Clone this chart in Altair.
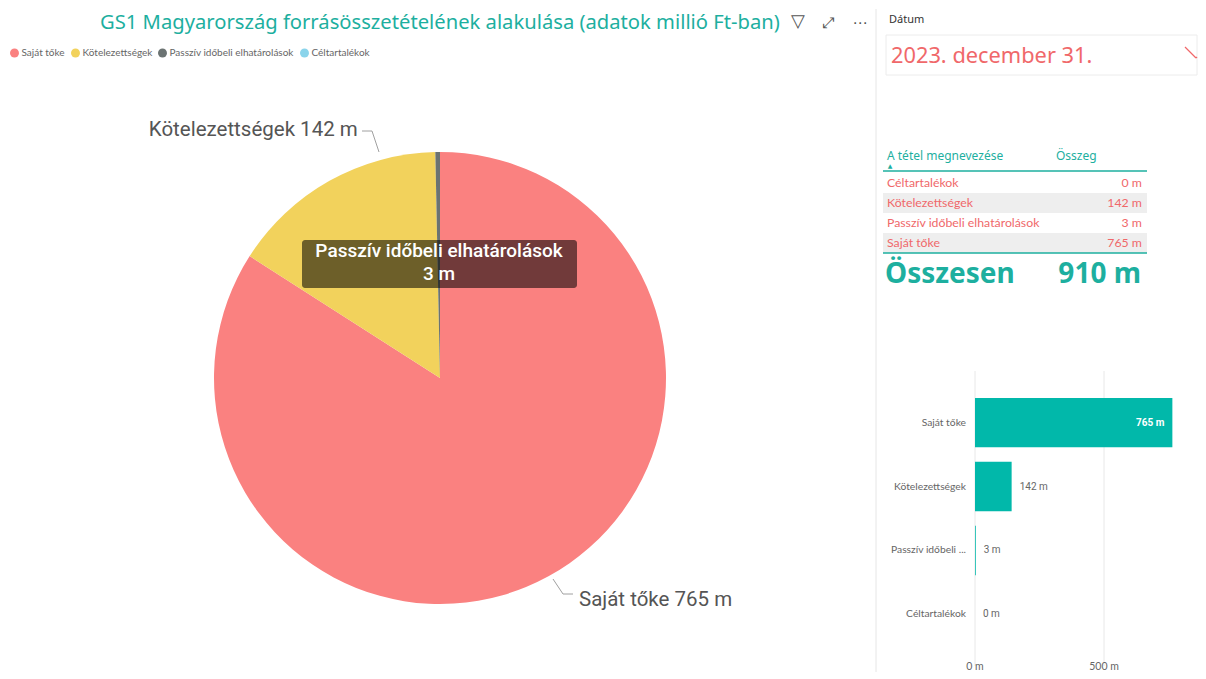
import altair as alt
import pandas as pd

# ---------------- data ----------------
title_text = "GS1 Magyarország forrásösszetételének alakulása (adatok millió Ft-ban)"
categories = ["Saját tőke", "Kötelezettségek", "Passzív időbeli elhatárolások", "Céltartalékok"]
values = [765, 142, 3, 0]
pie_colors = ["#FA8180", "#F2D25C", "#6B7372", "#8AD4EB"]
table_order = ["Céltartalékok", "Kötelezettségek", "Passzív időbeli elhatárolások", "Saját tőke"]
shaded_rows = ["Kötelezettségek", "Saját tőke"]
x_ticks = [0, 500]
date_label = "2023. december 31."
slicer_title = "Dátum"
col_headers = ["A tétel megnevezése", "Összeg"]
total_label = "Összesen"
icons = ["▽", "⤢", "⋯"]

# ---------------- layout helpers ----------------
W, H = 1190, 663


def px(x):
    return x - 8


def py(y):
    return y - 8


UI = "Noto Sans"
NARROW = "Lato"
DIN = "Roboto"
TEAL = "#1DAF9F"
BAR = "#01B8AA"
SALMON = "#F0686A"
GRAY = "#666666"

df = pd.DataFrame({"Category": categories, "Value": values, "ord": list(range(len(categories)))})
one = pd.DataFrame({"k": [0]})
ticks_df = pd.DataFrame({"Value": x_ticks})
base = alt.Chart(df)


def rule(x1, y1, x2, y2, color, width=1.0):
    return alt.Chart(one).mark_rule(color=color, strokeWidth=width).encode(
        x=alt.value(px(x1)), x2=alt.value(px(x2)), y=alt.value(py(y1)), y2=alt.value(py(y2))
    )


def label(text, x, y, size, color, align="left", font=UI, weight="normal"):
    return alt.Chart(one).mark_text(
        text=text, align=align, baseline="middle", font=font, fontSize=size,
        color=color, fontWeight=weight
    ).encode(x=alt.value(px(x)), y=alt.value(py(y)))


layers = []

# ---------------- left: title, pie ----------------
layers.append(label(title_text, 100, 22, 20.2, TEAL))
layers.append(label(icons[0], 798, 21, 18, "#555555", align="center", font="DejaVu Sans"))
layers.append(label(icons[1], 828, 22, 15, "#555555", align="center", font="DejaVu Sans"))
layers.append(label(icons[2], 860, 22, 15, "#555555", align="center", font="DejaVu Sans"))

theta = alt.Theta("Value:Q", stack=True)
order = alt.Order("ord:Q")
cx, cy = px(440), py(377)

pie = base.mark_arc(outerRadius=226).encode(
    theta=theta,
    order=order,
    color=alt.Color(
        "Category:N",
        scale=alt.Scale(domain=categories, range=pie_colors),
        legend=alt.Legend(
            orient="none", legendX=1.5, legendY=py(47), direction="horizontal", title=None,
            symbolType="circle", symbolSize=80, symbolStrokeWidth=0, labelFontSize=10,
            labelColor=GRAY, labelFont=NARROW, columnPadding=5, labelOffset=2, padding=0,
        ),
    ),
    x=alt.value(cx),
    y=alt.value(cy),
)
layers.append(pie)

pie_lbl = base.transform_calculate(label="datum.Category + ' ' + datum.Value + ' m'")
lbl_kot = pie_lbl.transform_calculate(
    t="datum.Category == '%s' ? datum.label : ''" % categories[1]
).mark_text(radius=250, align="right", baseline="middle", font=DIN, fontSize=20.5,
            color="#555555", dx=40, dy=-30).encode(
    theta=theta, order=order, text="t:N", x=alt.value(cx), y=alt.value(cy))
lbl_saj = pie_lbl.transform_calculate(
    t="datum.Category == '%s' ? datum.label : ''" % categories[0]
).mark_text(radius=250, align="left", baseline="middle", font=DIN, fontSize=20.5,
            color="#555555", dx=19, dy=3).encode(
    theta=theta, order=order, text="t:N", x=alt.value(cx), y=alt.value(cy))
layers += [lbl_kot, lbl_saj]

layers.append(rule(362, 130, 372, 130, "#A0A0A0"))
layers.append(rule(372, 130, 379, 151, "#A0A0A0"))
layers.append(rule(553, 578, 563, 593, "#A0A0A0"))
layers.append(rule(563, 593, 573, 593, "#A0A0A0"))

# tooltip overlay
tip_rect = alt.Chart(one).mark_rect(color="black", opacity=0.55, cornerRadius=3).encode(
    x=alt.value(px(302)), x2=alt.value(px(577)), y=alt.value(py(239)), y2=alt.value(py(287)))
tip_src = base.transform_filter(alt.datum.Category == categories[2])
tip_l1 = tip_src.mark_text(align="center", baseline="middle", font=DIN, fontSize=19,
                           fontWeight=500, color="white").encode(
    text="Category:N", x=alt.value(px(439)), y=alt.value(py(250)))
tip_l2 = tip_src.transform_calculate(t="datum.Value + ' m'").mark_text(
    align="center", baseline="middle", font=DIN, fontSize=19, fontWeight=500,
    color="white").encode(text="t:N", x=alt.value(px(439)), y=alt.value(py(273)))
layers += [tip_rect, tip_l1, tip_l2]

# divider
layers.append(rule(876, 8, 876, 671, "#E6E6E6"))

# ---------------- right: slicer ----------------
layers.append(label(slicer_title, 889, 19, 11, "#333333"))
slicer_box = alt.Chart(one).mark_rect(fill="white", stroke="#ECECEC", strokeWidth=1).encode(
    x=alt.value(px(886)), x2=alt.value(px(1197)), y=alt.value(py(34)), y2=alt.value(py(74)))
layers.append(slicer_box)
layers.append(label(date_label, 891, 55, 21.8, SALMON))
layers.append(rule(1185, 46, 1196, 57, SALMON, 1.3))
layers.append(rule(1196, 57, 1197, 56, SALMON, 1.3))

# ---------------- right: table ----------------
layers.append(label(col_headers[0], 887, 155, 12, TEAL))
layers.append(label(col_headers[1], 1056, 155, 12, TEAL))
layers.append(label("▲", 890, 165, 6, TEAL, align="center", font="DejaVu Sans"))

tbl_y = alt.Y("Category:N", axis=None,
              scale=alt.Scale(type="band", domain=table_order, range=[py(172), py(252)],
                              paddingInner=0, paddingOuter=0))
shade = base.transform_filter(alt.FieldOneOfPredicate(field="Category", oneOf=shaded_rows)).mark_rect(
    color="#EEEEEE").encode(y=tbl_y, x=alt.value(px(883)), x2=alt.value(px(1147)))
layers.append(shade)
tbl_names = base.mark_text(align="left", baseline="middle", font=NARROW, fontSize=12.3,
                           color=SALMON).encode(text="Category:N", y=tbl_y, x=alt.value(px(887)))
tbl_vals = base.transform_calculate(t="datum.Value + ' m'").mark_text(
    align="right", baseline="middle", font=NARROW, fontSize=12.3, color=SALMON).encode(
    text="t:N", y=tbl_y, x=alt.value(px(1142)))
layers += [tbl_names, tbl_vals]
layers.append(rule(883, 170, 1147, 170, TEAL, 1.5))
layers.append(rule(883, 252, 1147, 252, TEAL, 1.5))

layers.append(label(total_label, 885, 274, 28, TEAL, weight="bold"))
total = base.transform_aggregate(total="sum(Value)").transform_calculate(
    t="datum.total + ' m'").mark_text(align="right", baseline="middle", font=UI, fontSize=28,
                                      fontWeight="bold", color=TEAL).encode(
    text="t:N", x=alt.value(px(1141)), y=alt.value(py(274)))
layers.append(total)

# ---------------- right: bar chart ----------------
bx = alt.X("Value:Q", axis=None,
           scale=alt.Scale(domain=[0, 1000], range=[px(975), px(975 + 258)], nice=False, zero=False))
by = alt.Y("Category:N", axis=None,
           scale=alt.Scale(type="band", domain=categories, range=[py(370), py(665)],
                           paddingInner=0.23, paddingOuter=0.42))

grid = alt.Chart(ticks_df).mark_rule(color="#E8E8E8").encode(
    x=bx, y=alt.value(py(370)), y2=alt.value(py(665)))
tick_lbl = alt.Chart(ticks_df).transform_calculate(t="datum.Value + ' m'").mark_text(
    align="center", baseline="middle", font=NARROW, fontSize=10.5, color=GRAY).encode(
    x=bx, text="t:N", y=alt.value(py(666)))
bars = base.mark_bar(color=BAR).encode(x=bx, y=by)
cat_lbl = base.mark_text(align="right", baseline="middle", font=NARROW, fontSize=10.3, color=GRAY,
                         limit=76, ellipsis=" ...").encode(
    text="Category:N", y=by, x=alt.value(px(966)))
val_in = base.transform_filter(alt.datum.Category == categories[0]).transform_calculate(
    t="datum.Value + ' m'").mark_text(align="right", baseline="middle", font=DIN, fontSize=10,
                                      fontWeight="bold", color="white", dx=-8).encode(
    x=bx, y=by, text="t:N")
val_out = base.transform_filter(alt.datum.Category != categories[0]).transform_calculate(
    t="datum.Value + ' m'").mark_text(align="left", baseline="middle", font=DIN, fontSize=10,
                                      color=GRAY, dx=8).encode(
    x=bx, y=by, text="t:N")
layers += [grid, tick_lbl, bars, cat_lbl, val_in, val_out]

chart = (
    alt.layer(*layers)
    .resolve_scale(y="independent")
    .properties(width=W, height=H, padding=0)
    .configure_view(stroke=None)
)

chart.save("out.html", embed_options={"renderer": "svg", "actions": False})
